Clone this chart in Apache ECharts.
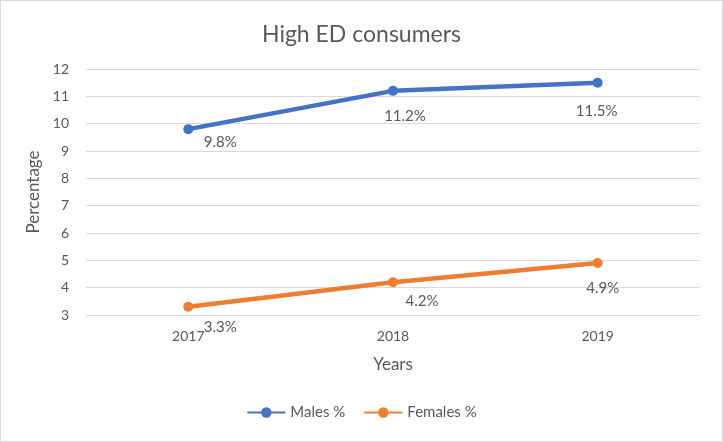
<!DOCTYPE html>
<html>
<head>
<meta charset="utf-8">
<script src="https://cdn.jsdelivr.net/npm/echarts@6/dist/echarts.min.js"></script>
<style>
  html, body { margin: 0; padding: 0; background: #fff; }
  #chart { width: 721px; height: 440px; border: 1px solid #d9d9d9; }
</style>
</head>
<body>
<div id="chart"></div>
<script>
// Data
const years = ['2017', '2018', '2019']
const males = [9.8, 11.2, 11.5]
const females = [3.3, 4.2, 4.9]

// Label nudges (Excel labels sit below-right of each point)
const maleLabelOffsets = [[32, 13], [12, 25], [-1, 28]]
const femaleLabelOffsets = [[32, 20], [29, 19], [5, 25]]

const colors = {
  males: '#4472C4',
  females: '#ED7D31',
  text: '#595959',
  grid: '#d9d9d9'
}
const font = 'Lato, "Open Sans", sans-serif'

const withLabels = (values, offsets) => values.map((v, i) => ({
  value: v,
  label: { offset: offsets[i] }
}))

const lineSeries = (name, values, offsets, color) => ({
  name: name,
  type: 'line',
  data: withLabels(values, offsets),
  symbol: 'circle',
  symbolSize: 10,
  itemStyle: { color: color },
  lineStyle: { color: color, width: 4.5 },
  label: {
    show: true,
    position: 'inside',
    formatter: p => p.value.toFixed(1) + '%',
    color: colors.text,
    fontSize: 15,
    fontFamily: font
  },
  animation: false
})

const chart = echarts.init(document.getElementById('chart'))
chart.setOption({
  title: {
    text: 'High ED consumers',
    left: 'center',
    top: 17,
    textStyle: { color: colors.text, fontSize: 23, fontWeight: 'normal', fontFamily: font }
  },
  legend: {
    bottom: 16,
    left: 'center',
    itemWidth: 38,
    itemHeight: 13,
    itemGap: 18,
    textStyle: { color: colors.text, fontSize: 15, fontFamily: font },
    data: ['Males %', 'Females %']
  },
  grid: { left: 85, right: 22, top: 68, bottom: 126 },
  xAxis: {
    type: 'category',
    data: years,
    boundaryGap: true,
    axisLine: { show: false },
    axisTick: { show: false },
    axisLabel: { color: colors.text, fontSize: 14, fontFamily: font, margin: 14 },
    name: 'Years',
    nameLocation: 'middle',
    nameGap: 41,
    nameTextStyle: { color: colors.text, fontSize: 17, fontFamily: font }
  },
  yAxis: {
    type: 'value',
    min: 3,
    max: 12,
    interval: 1,
    axisLine: { show: false },
    axisTick: { show: false },
    axisLabel: { color: colors.text, fontSize: 14, fontFamily: font, margin: 17 },
    splitLine: { lineStyle: { color: colors.grid, width: 1 } },
    name: 'Percentage',
    nameLocation: 'middle',
    nameGap: 39,
    nameTextStyle: { color: colors.text, fontSize: 17, fontFamily: font }
  },
  series: [
    lineSeries('Males %', males, maleLabelOffsets, colors.males),
    lineSeries('Females %', females, femaleLabelOffsets, colors.females)
  ]
})
</script>
</body>
</html>
